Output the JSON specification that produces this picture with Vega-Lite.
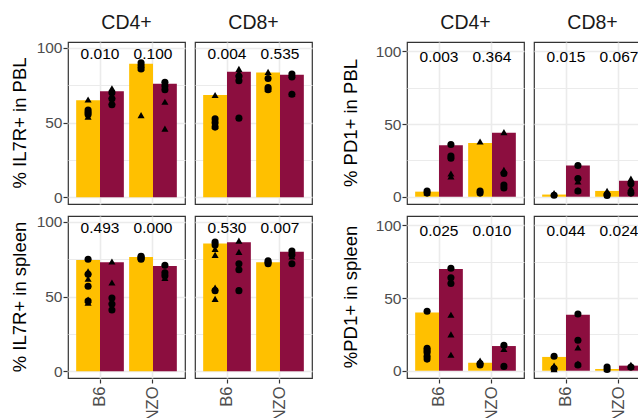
{
"$schema": "https://vega.github.io/schema/vega-lite/v6.json",
"padding": {"left": 10, "top": 12, "right": 0, "bottom": 0},
"background": "white",
"datasets": {"d": [
{"m":"IL7R","t":"PBL","c":"CD4+","s":"B6","g":"A","k":"bar","v":65},
{"m":"IL7R","t":"PBL","c":"CD4+","s":"B6","g":"B","k":"bar","v":71},
{"m":"IL7R","t":"PBL","c":"CD4+","s":"NZO","g":"A","k":"bar","v":89.5},
{"m":"IL7R","t":"PBL","c":"CD4+","s":"NZO","g":"B","k":"bar","v":76},
{"m":"IL7R","t":"PBL","c":"CD4+","s":"B6","k":"p","p":"0.010"},
{"m":"IL7R","t":"PBL","c":"CD4+","s":"NZO","k":"p","p":"0.100"},
{"m":"IL7R","t":"PBL","c":"CD4+","s":"B6","g":"A","k":"pt","sh":"tri","v":65.5},
{"m":"IL7R","t":"PBL","c":"CD4+","s":"B6","g":"A","k":"pt","sh":"circ","v":58.5},
{"m":"IL7R","t":"PBL","c":"CD4+","s":"B6","g":"A","k":"pt","sh":"circ","v":57},
{"m":"IL7R","t":"PBL","c":"CD4+","s":"B6","g":"A","k":"pt","sh":"circ","v":55.5},
{"m":"IL7R","t":"PBL","c":"CD4+","s":"B6","g":"A","k":"pt","sh":"tri","v":54},
{"m":"IL7R","t":"PBL","c":"CD4+","s":"B6","g":"B","k":"pt","sh":"tri","v":73},
{"m":"IL7R","t":"PBL","c":"CD4+","s":"B6","g":"B","k":"pt","sh":"circ","v":70},
{"m":"IL7R","t":"PBL","c":"CD4+","s":"B6","g":"B","k":"pt","sh":"tri","v":68},
{"m":"IL7R","t":"PBL","c":"CD4+","s":"B6","g":"B","k":"pt","sh":"circ","v":66},
{"m":"IL7R","t":"PBL","c":"CD4+","s":"B6","g":"B","k":"pt","sh":"tri","v":64},
{"m":"IL7R","t":"PBL","c":"CD4+","s":"B6","g":"B","k":"pt","sh":"circ","v":62},
{"m":"IL7R","t":"PBL","c":"CD4+","s":"NZO","g":"A","k":"pt","sh":"circ","v":90},
{"m":"IL7R","t":"PBL","c":"CD4+","s":"NZO","g":"A","k":"pt","sh":"tri","v":89},
{"m":"IL7R","t":"PBL","c":"CD4+","s":"NZO","g":"A","k":"pt","sh":"circ","v":88},
{"m":"IL7R","t":"PBL","c":"CD4+","s":"NZO","g":"A","k":"pt","sh":"tri","v":87},
{"m":"IL7R","t":"PBL","c":"CD4+","s":"NZO","g":"A","k":"pt","sh":"circ","v":86},
{"m":"IL7R","t":"PBL","c":"CD4+","s":"NZO","g":"A","k":"pt","sh":"tri","v":55},
{"m":"IL7R","t":"PBL","c":"CD4+","s":"NZO","g":"B","k":"pt","sh":"circ","v":77},
{"m":"IL7R","t":"PBL","c":"CD4+","s":"NZO","g":"B","k":"pt","sh":"circ","v":74.5},
{"m":"IL7R","t":"PBL","c":"CD4+","s":"NZO","g":"B","k":"pt","sh":"circ","v":72},
{"m":"IL7R","t":"PBL","c":"CD4+","s":"NZO","g":"B","k":"pt","sh":"tri","v":64},
{"m":"IL7R","t":"PBL","c":"CD4+","s":"NZO","g":"B","k":"pt","sh":"tri","v":46},

{"m":"IL7R","t":"PBL","c":"CD8+","s":"B6","g":"A","k":"bar","v":68.5},
{"m":"IL7R","t":"PBL","c":"CD8+","s":"B6","g":"B","k":"bar","v":84},
{"m":"IL7R","t":"PBL","c":"CD8+","s":"NZO","g":"A","k":"bar","v":83.5},
{"m":"IL7R","t":"PBL","c":"CD8+","s":"NZO","g":"B","k":"bar","v":82},
{"m":"IL7R","t":"PBL","c":"CD8+","s":"B6","k":"p","p":"0.004"},
{"m":"IL7R","t":"PBL","c":"CD8+","s":"NZO","k":"p","p":"0.535"},
{"m":"IL7R","t":"PBL","c":"CD8+","s":"B6","g":"A","k":"pt","sh":"tri","v":68.5},
{"m":"IL7R","t":"PBL","c":"CD8+","s":"B6","g":"A","k":"pt","sh":"circ","v":52.5},
{"m":"IL7R","t":"PBL","c":"CD8+","s":"B6","g":"A","k":"pt","sh":"circ","v":50},
{"m":"IL7R","t":"PBL","c":"CD8+","s":"B6","g":"A","k":"pt","sh":"tri","v":48},
{"m":"IL7R","t":"PBL","c":"CD8+","s":"B6","g":"A","k":"pt","sh":"circ","v":47},
{"m":"IL7R","t":"PBL","c":"CD8+","s":"B6","g":"B","k":"pt","sh":"tri","v":86},
{"m":"IL7R","t":"PBL","c":"CD8+","s":"B6","g":"B","k":"pt","sh":"tri","v":83.5},
{"m":"IL7R","t":"PBL","c":"CD8+","s":"B6","g":"B","k":"pt","sh":"circ","v":81},
{"m":"IL7R","t":"PBL","c":"CD8+","s":"B6","g":"B","k":"pt","sh":"circ","v":78},
{"m":"IL7R","t":"PBL","c":"CD8+","s":"B6","g":"B","k":"pt","sh":"circ","v":53},
{"m":"IL7R","t":"PBL","c":"CD8+","s":"NZO","g":"A","k":"pt","sh":"tri","v":84},
{"m":"IL7R","t":"PBL","c":"CD8+","s":"NZO","g":"A","k":"pt","sh":"circ","v":79.5},
{"m":"IL7R","t":"PBL","c":"CD8+","s":"NZO","g":"A","k":"pt","sh":"circ","v":73.5},
{"m":"IL7R","t":"PBL","c":"CD8+","s":"NZO","g":"A","k":"pt","sh":"tri","v":72.5},
{"m":"IL7R","t":"PBL","c":"CD8+","s":"NZO","g":"A","k":"pt","sh":"circ","v":72},
{"m":"IL7R","t":"PBL","c":"CD8+","s":"NZO","g":"B","k":"pt","sh":"circ","v":82.5},
{"m":"IL7R","t":"PBL","c":"CD8+","s":"NZO","g":"B","k":"pt","sh":"tri","v":82},
{"m":"IL7R","t":"PBL","c":"CD8+","s":"NZO","g":"B","k":"pt","sh":"circ","v":80.5},
{"m":"IL7R","t":"PBL","c":"CD8+","s":"NZO","g":"B","k":"pt","sh":"tri","v":69.5},
{"m":"IL7R","t":"PBL","c":"CD8+","s":"NZO","g":"B","k":"pt","sh":"circ","v":69},

{"m":"IL7R","t":"spleen","c":"CD4+","s":"B6","g":"A","k":"bar","v":74.5},
{"m":"IL7R","t":"spleen","c":"CD4+","s":"B6","g":"B","k":"bar","v":73},
{"m":"IL7R","t":"spleen","c":"CD4+","s":"NZO","g":"A","k":"bar","v":76.5},
{"m":"IL7R","t":"spleen","c":"CD4+","s":"NZO","g":"B","k":"bar","v":70.5},
{"m":"IL7R","t":"spleen","c":"CD4+","s":"B6","k":"p","p":"0.493"},
{"m":"IL7R","t":"spleen","c":"CD4+","s":"NZO","k":"p","p":"0.000"},
{"m":"IL7R","t":"spleen","c":"CD4+","s":"B6","g":"A","k":"pt","sh":"circ","v":75},
{"m":"IL7R","t":"spleen","c":"CD4+","s":"B6","g":"A","k":"pt","sh":"tri","v":67},
{"m":"IL7R","t":"spleen","c":"CD4+","s":"B6","g":"A","k":"pt","sh":"circ","v":65},
{"m":"IL7R","t":"spleen","c":"CD4+","s":"B6","g":"A","k":"pt","sh":"tri","v":62},
{"m":"IL7R","t":"spleen","c":"CD4+","s":"B6","g":"A","k":"pt","sh":"circ","v":57},
{"m":"IL7R","t":"spleen","c":"CD4+","s":"B6","g":"A","k":"pt","sh":"tri","v":48},
{"m":"IL7R","t":"spleen","c":"CD4+","s":"B6","g":"A","k":"pt","sh":"circ","v":47},
{"m":"IL7R","t":"spleen","c":"CD4+","s":"B6","g":"A","k":"pt","sh":"tri","v":46},
{"m":"IL7R","t":"spleen","c":"CD4+","s":"B6","g":"B","k":"pt","sh":"tri","v":73.5},
{"m":"IL7R","t":"spleen","c":"CD4+","s":"B6","g":"B","k":"pt","sh":"tri","v":59.5},
{"m":"IL7R","t":"spleen","c":"CD4+","s":"B6","g":"B","k":"pt","sh":"circ","v":49},
{"m":"IL7R","t":"spleen","c":"CD4+","s":"B6","g":"B","k":"pt","sh":"tri","v":47},
{"m":"IL7R","t":"spleen","c":"CD4+","s":"B6","g":"B","k":"pt","sh":"circ","v":45},
{"m":"IL7R","t":"spleen","c":"CD4+","s":"B6","g":"B","k":"pt","sh":"circ","v":41},
{"m":"IL7R","t":"spleen","c":"CD4+","s":"NZO","g":"A","k":"pt","sh":"circ","v":77},
{"m":"IL7R","t":"spleen","c":"CD4+","s":"NZO","g":"A","k":"pt","sh":"circ","v":76.5},
{"m":"IL7R","t":"spleen","c":"CD4+","s":"NZO","g":"A","k":"pt","sh":"circ","v":75.5},
{"m":"IL7R","t":"spleen","c":"CD4+","s":"NZO","g":"A","k":"pt","sh":"circ","v":75},
{"m":"IL7R","t":"spleen","c":"CD4+","s":"NZO","g":"B","k":"pt","sh":"circ","v":71},
{"m":"IL7R","t":"spleen","c":"CD4+","s":"NZO","g":"B","k":"pt","sh":"circ","v":66},
{"m":"IL7R","t":"spleen","c":"CD4+","s":"NZO","g":"B","k":"pt","sh":"circ","v":64},
{"m":"IL7R","t":"spleen","c":"CD4+","s":"NZO","g":"B","k":"pt","sh":"tri","v":62.5},

{"m":"IL7R","t":"spleen","c":"CD8+","s":"B6","g":"A","k":"bar","v":85.5},
{"m":"IL7R","t":"spleen","c":"CD8+","s":"B6","g":"B","k":"bar","v":86.5},
{"m":"IL7R","t":"spleen","c":"CD8+","s":"NZO","g":"A","k":"bar","v":73},
{"m":"IL7R","t":"spleen","c":"CD8+","s":"NZO","g":"B","k":"bar","v":80},
{"m":"IL7R","t":"spleen","c":"CD8+","s":"B6","k":"p","p":"0.530"},
{"m":"IL7R","t":"spleen","c":"CD8+","s":"NZO","k":"p","p":"0.007"},
{"m":"IL7R","t":"spleen","c":"CD8+","s":"B6","g":"A","k":"pt","sh":"circ","v":86.5},
{"m":"IL7R","t":"spleen","c":"CD8+","s":"B6","g":"A","k":"pt","sh":"circ","v":84.5},
{"m":"IL7R","t":"spleen","c":"CD8+","s":"B6","g":"A","k":"pt","sh":"tri","v":82},
{"m":"IL7R","t":"spleen","c":"CD8+","s":"B6","g":"A","k":"pt","sh":"tri","v":78},
{"m":"IL7R","t":"spleen","c":"CD8+","s":"B6","g":"A","k":"pt","sh":"tri","v":56},
{"m":"IL7R","t":"spleen","c":"CD8+","s":"B6","g":"A","k":"pt","sh":"circ","v":54},
{"m":"IL7R","t":"spleen","c":"CD8+","s":"B6","g":"A","k":"pt","sh":"tri","v":48.5},
{"m":"IL7R","t":"spleen","c":"CD8+","s":"B6","g":"B","k":"pt","sh":"tri","v":87.5},
{"m":"IL7R","t":"spleen","c":"CD8+","s":"B6","g":"B","k":"pt","sh":"tri","v":80},
{"m":"IL7R","t":"spleen","c":"CD8+","s":"B6","g":"B","k":"pt","sh":"circ","v":72},
{"m":"IL7R","t":"spleen","c":"CD8+","s":"B6","g":"B","k":"pt","sh":"circ","v":68},
{"m":"IL7R","t":"spleen","c":"CD8+","s":"B6","g":"B","k":"pt","sh":"circ","v":54},
{"m":"IL7R","t":"spleen","c":"CD8+","s":"NZO","g":"A","k":"pt","sh":"circ","v":74},
{"m":"IL7R","t":"spleen","c":"CD8+","s":"NZO","g":"A","k":"pt","sh":"circ","v":73},
{"m":"IL7R","t":"spleen","c":"CD8+","s":"NZO","g":"A","k":"pt","sh":"circ","v":72},
{"m":"IL7R","t":"spleen","c":"CD8+","s":"NZO","g":"B","k":"pt","sh":"circ","v":80.5},
{"m":"IL7R","t":"spleen","c":"CD8+","s":"NZO","g":"B","k":"pt","sh":"circ","v":78},
{"m":"IL7R","t":"spleen","c":"CD8+","s":"NZO","g":"B","k":"pt","sh":"tri","v":77},
{"m":"IL7R","t":"spleen","c":"CD8+","s":"NZO","g":"B","k":"pt","sh":"circ","v":72},

{"m":"PD1","t":"PBL","c":"CD4+","s":"B6","g":"A","k":"bar","v":3.5},
{"m":"PD1","t":"PBL","c":"CD4+","s":"B6","g":"B","k":"bar","v":35.5},
{"m":"PD1","t":"PBL","c":"CD4+","s":"NZO","g":"A","k":"bar","v":37},
{"m":"PD1","t":"PBL","c":"CD4+","s":"NZO","g":"B","k":"bar","v":44},
{"m":"PD1","t":"PBL","c":"CD4+","s":"B6","k":"p","p":"0.003"},
{"m":"PD1","t":"PBL","c":"CD4+","s":"NZO","k":"p","p":"0.364"},
{"m":"PD1","t":"PBL","c":"CD4+","s":"B6","g":"A","k":"pt","sh":"circ","v":4},
{"m":"PD1","t":"PBL","c":"CD4+","s":"B6","g":"A","k":"pt","sh":"tri","v":3},
{"m":"PD1","t":"PBL","c":"CD4+","s":"B6","g":"A","k":"pt","sh":"circ","v":2.5},
{"m":"PD1","t":"PBL","c":"CD4+","s":"B6","g":"B","k":"pt","sh":"circ","v":36},
{"m":"PD1","t":"PBL","c":"CD4+","s":"B6","g":"B","k":"pt","sh":"circ","v":28},
{"m":"PD1","t":"PBL","c":"CD4+","s":"B6","g":"B","k":"pt","sh":"circ","v":26.5},
{"m":"PD1","t":"PBL","c":"CD4+","s":"B6","g":"B","k":"pt","sh":"tri","v":16},
{"m":"PD1","t":"PBL","c":"CD4+","s":"B6","g":"B","k":"pt","sh":"tri","v":14},
{"m":"PD1","t":"PBL","c":"CD4+","s":"NZO","g":"A","k":"pt","sh":"tri","v":38},
{"m":"PD1","t":"PBL","c":"CD4+","s":"NZO","g":"A","k":"pt","sh":"circ","v":4},
{"m":"PD1","t":"PBL","c":"CD4+","s":"NZO","g":"A","k":"pt","sh":"circ","v":2.5},
{"m":"PD1","t":"PBL","c":"CD4+","s":"NZO","g":"B","k":"pt","sh":"tri","v":44.5},
{"m":"PD1","t":"PBL","c":"CD4+","s":"NZO","g":"B","k":"pt","sh":"tri","v":18.5},
{"m":"PD1","t":"PBL","c":"CD4+","s":"NZO","g":"B","k":"pt","sh":"circ","v":16},
{"m":"PD1","t":"PBL","c":"CD4+","s":"NZO","g":"B","k":"pt","sh":"circ","v":8},
{"m":"PD1","t":"PBL","c":"CD4+","s":"NZO","g":"B","k":"pt","sh":"circ","v":6},

{"m":"PD1","t":"PBL","c":"CD8+","s":"B6","g":"A","k":"bar","v":1.5},
{"m":"PD1","t":"PBL","c":"CD8+","s":"B6","g":"B","k":"bar","v":21.5},
{"m":"PD1","t":"PBL","c":"CD8+","s":"NZO","g":"A","k":"bar","v":4},
{"m":"PD1","t":"PBL","c":"CD8+","s":"NZO","g":"B","k":"bar","v":11},
{"m":"PD1","t":"PBL","c":"CD8+","s":"B6","k":"p","p":"0.015"},
{"m":"PD1","t":"PBL","c":"CD8+","s":"NZO","k":"p","p":"0.067"},
{"m":"PD1","t":"PBL","c":"CD8+","s":"B6","g":"A","k":"pt","sh":"tri","v":2.5},
{"m":"PD1","t":"PBL","c":"CD8+","s":"B6","g":"A","k":"pt","sh":"circ","v":1},
{"m":"PD1","t":"PBL","c":"CD8+","s":"B6","g":"B","k":"pt","sh":"circ","v":21.5},
{"m":"PD1","t":"PBL","c":"CD8+","s":"B6","g":"B","k":"pt","sh":"circ","v":12.5},
{"m":"PD1","t":"PBL","c":"CD8+","s":"B6","g":"B","k":"pt","sh":"tri","v":10.5},
{"m":"PD1","t":"PBL","c":"CD8+","s":"B6","g":"B","k":"pt","sh":"tri","v":4.5},
{"m":"PD1","t":"PBL","c":"CD8+","s":"B6","g":"B","k":"pt","sh":"circ","v":4},
{"m":"PD1","t":"PBL","c":"CD8+","s":"NZO","g":"A","k":"pt","sh":"tri","v":4},
{"m":"PD1","t":"PBL","c":"CD8+","s":"NZO","g":"A","k":"pt","sh":"circ","v":1.5},
{"m":"PD1","t":"PBL","c":"CD8+","s":"NZO","g":"A","k":"pt","sh":"circ","v":0.8},
{"m":"PD1","t":"PBL","c":"CD8+","s":"NZO","g":"B","k":"pt","sh":"tri","v":12.5},
{"m":"PD1","t":"PBL","c":"CD8+","s":"NZO","g":"B","k":"pt","sh":"circ","v":9},
{"m":"PD1","t":"PBL","c":"CD8+","s":"NZO","g":"B","k":"pt","sh":"tri","v":6},
{"m":"PD1","t":"PBL","c":"CD8+","s":"NZO","g":"B","k":"pt","sh":"circ","v":2.5},

{"m":"PD1","t":"spleen","c":"CD4+","s":"B6","g":"A","k":"bar","v":40},
{"m":"PD1","t":"spleen","c":"CD4+","s":"B6","g":"B","k":"bar","v":70},
{"m":"PD1","t":"spleen","c":"CD4+","s":"NZO","g":"A","k":"bar","v":5.5},
{"m":"PD1","t":"spleen","c":"CD4+","s":"NZO","g":"B","k":"bar","v":17},
{"m":"PD1","t":"spleen","c":"CD4+","s":"B6","k":"p","p":"0.025"},
{"m":"PD1","t":"spleen","c":"CD4+","s":"NZO","k":"p","p":"0.010"},
{"m":"PD1","t":"spleen","c":"CD4+","s":"B6","g":"A","k":"pt","sh":"circ","v":41},
{"m":"PD1","t":"spleen","c":"CD4+","s":"B6","g":"A","k":"pt","sh":"circ","v":15.5},
{"m":"PD1","t":"spleen","c":"CD4+","s":"B6","g":"A","k":"pt","sh":"circ","v":14},
{"m":"PD1","t":"spleen","c":"CD4+","s":"B6","g":"A","k":"pt","sh":"circ","v":12.5},
{"m":"PD1","t":"spleen","c":"CD4+","s":"B6","g":"A","k":"pt","sh":"circ","v":10},
{"m":"PD1","t":"spleen","c":"CD4+","s":"B6","g":"A","k":"pt","sh":"circ","v":8},
{"m":"PD1","t":"spleen","c":"CD4+","s":"B6","g":"B","k":"pt","sh":"circ","v":70.5},
{"m":"PD1","t":"spleen","c":"CD4+","s":"B6","g":"B","k":"pt","sh":"circ","v":64},
{"m":"PD1","t":"spleen","c":"CD4+","s":"B6","g":"B","k":"pt","sh":"circ","v":60},
{"m":"PD1","t":"spleen","c":"CD4+","s":"B6","g":"B","k":"pt","sh":"tri","v":38.5},
{"m":"PD1","t":"spleen","c":"CD4+","s":"B6","g":"B","k":"pt","sh":"tri","v":25},
{"m":"PD1","t":"spleen","c":"CD4+","s":"B6","g":"B","k":"pt","sh":"tri","v":11},
{"m":"PD1","t":"spleen","c":"CD4+","s":"NZO","g":"A","k":"pt","sh":"tri","v":7},
{"m":"PD1","t":"spleen","c":"CD4+","s":"NZO","g":"A","k":"pt","sh":"circ","v":5},
{"m":"PD1","t":"spleen","c":"CD4+","s":"NZO","g":"A","k":"pt","sh":"circ","v":4},
{"m":"PD1","t":"spleen","c":"CD4+","s":"NZO","g":"B","k":"pt","sh":"circ","v":17.5},
{"m":"PD1","t":"spleen","c":"CD4+","s":"NZO","g":"B","k":"pt","sh":"tri","v":15},
{"m":"PD1","t":"spleen","c":"CD4+","s":"NZO","g":"B","k":"pt","sh":"circ","v":3},

{"m":"PD1","t":"spleen","c":"CD8+","s":"B6","g":"A","k":"bar","v":9.5},
{"m":"PD1","t":"spleen","c":"CD8+","s":"B6","g":"B","k":"bar","v":38.5},
{"m":"PD1","t":"spleen","c":"CD8+","s":"NZO","g":"A","k":"bar","v":1.2},
{"m":"PD1","t":"spleen","c":"CD8+","s":"NZO","g":"B","k":"bar","v":3.5},
{"m":"PD1","t":"spleen","c":"CD8+","s":"B6","k":"p","p":"0.044"},
{"m":"PD1","t":"spleen","c":"CD8+","s":"NZO","k":"p","p":"0.024"},
{"m":"PD1","t":"spleen","c":"CD8+","s":"B6","g":"A","k":"pt","sh":"circ","v":10},
{"m":"PD1","t":"spleen","c":"CD8+","s":"B6","g":"A","k":"pt","sh":"tri","v":3.5},
{"m":"PD1","t":"spleen","c":"CD8+","s":"B6","g":"A","k":"pt","sh":"circ","v":1.5},
{"m":"PD1","t":"spleen","c":"CD8+","s":"B6","g":"A","k":"pt","sh":"tri","v":1},
{"m":"PD1","t":"spleen","c":"CD8+","s":"B6","g":"B","k":"pt","sh":"circ","v":39},
{"m":"PD1","t":"spleen","c":"CD8+","s":"B6","g":"B","k":"pt","sh":"circ","v":21},
{"m":"PD1","t":"spleen","c":"CD8+","s":"B6","g":"B","k":"pt","sh":"tri","v":16},
{"m":"PD1","t":"spleen","c":"CD8+","s":"B6","g":"B","k":"pt","sh":"tri","v":5},
{"m":"PD1","t":"spleen","c":"CD8+","s":"B6","g":"B","k":"pt","sh":"circ","v":4},
{"m":"PD1","t":"spleen","c":"CD8+","s":"NZO","g":"A","k":"pt","sh":"circ","v":2.5},
{"m":"PD1","t":"spleen","c":"CD8+","s":"NZO","g":"A","k":"pt","sh":"tri","v":1.5},
{"m":"PD1","t":"spleen","c":"CD8+","s":"NZO","g":"A","k":"pt","sh":"circ","v":0.8},
{"m":"PD1","t":"spleen","c":"CD8+","s":"NZO","g":"B","k":"pt","sh":"tri","v":4},
{"m":"PD1","t":"spleen","c":"CD8+","s":"NZO","g":"B","k":"pt","sh":"tri","v":3},
{"m":"PD1","t":"spleen","c":"CD8+","s":"NZO","g":"B","k":"pt","sh":"circ","v":2.5}
]},
"data": {"name": "d"},
"spacing": 28,
"hconcat": [
{
"transform": [{"filter": "datum.m == 'IL7R'"}],
"facet": {
  "row": {"field": "t", "type": "nominal", "sort": ["PBL", "spleen"], "header": {"title": null, "labelExpr": "datum.value == 'PBL' ? '% IL7R+ in PBL' : '% IL7R+ in spleen'", "labelAngle": -90, "labelOrient": "left", "labelFontSize": 18.5, "labelPadding": -2, "labelColor": "#000000"}},
  "column": {"field": "c", "type": "nominal", "header": {"title": null, "labelFontSize": 19.5, "labelPadding": 8, "labelColor": "#1A1A1A"}}
},
"spacing": {"row": 10, "column": 8},
"spec": {
  "width": 117, "height": 162,
  "encoding": {
    "x": {"field": "s", "type": "nominal", "scale": {"paddingInner": 0.1, "paddingOuter": 0.154},
      "axis": {"title": null, "labelAngle": -90, "grid": true, "bandPosition": 0.5, "gridWidth": 1.6, "tickSize": 4, "labelPadding": 3, "labelFontSize": 16.5}}
  },
  "layer": [
    {"transform": [{"filter": "datum.k == 'bar'"}], "mark": {"type": "bar"},
     "encoding": {
       "xOffset": {"field": "g", "type": "nominal", "scale": {"paddingInner": 0, "paddingOuter": 0}},
       "y": {"field": "v", "type": "quantitative", "scale": {"domain": [-4.5, 104], "nice": false, "zero": false},
         "axis": {"title": null, "values": [0, 25, 50, 75, 100], "labelExpr": "datum.value % 50 == 0 ? datum.label : ''",
           "tickOpacity": {"condition": {"test": "datum.value % 50 == 0", "value": 1}, "value": 0},
           "gridWidth": {"condition": {"test": "datum.value % 50 == 0", "value": 1.6}, "value": 1},
           "tickSize": 4, "labelPadding": 1, "labelFontSize": 15.5}},
       "color": {"field": "g", "type": "nominal", "scale": {"domain": ["A", "B"], "range": ["#FFC000", "#8C0E3F"]}, "legend": null}
     }},
    {"transform": [{"filter": "datum.k == 'pt'"}], "mark": {"type": "point", "filled": true, "color": "#000000", "opacity": 1, "size": 50},
     "encoding": {
       "xOffset": {"field": "g", "type": "nominal"},
       "y": {"field": "v", "type": "quantitative"},
       "shape": {"field": "sh", "type": "nominal", "scale": {"domain": ["circ", "tri"], "range": ["circle", "triangle-up"]}, "legend": null}
     }},
    {"transform": [{"filter": "datum.k == 'p'"}], "mark": {"type": "text", "fontSize": 15.5, "color": "#000000", "baseline": "middle"},
     "encoding": {
       "y": {"datum": 96, "type": "quantitative"},
       "text": {"field": "p", "type": "nominal"}
     }}
  ]
}
},
{
"transform": [{"filter": "datum.m == 'PD1'"}],
"facet": {
  "row": {"field": "t", "type": "nominal", "sort": ["PBL", "spleen"], "header": {"title": null, "labelExpr": "datum.value == 'PBL' ? '% PD1+ in PBL' : '%PD1+ in spleen'", "labelAngle": -90, "labelOrient": "left", "labelFontSize": 18.5, "labelPadding": 6, "labelColor": "#000000"}},
  "column": {"field": "c", "type": "nominal", "header": {"title": null, "labelFontSize": 19.5, "labelPadding": 8, "labelColor": "#1A1A1A"}}
},
"spacing": {"row": 10, "column": 8},
"spec": {
  "width": 117, "height": 162,
  "encoding": {
    "x": {"field": "s", "type": "nominal", "scale": {"paddingInner": 0.1, "paddingOuter": 0.154},
      "axis": {"title": null, "labelAngle": -90, "grid": true, "bandPosition": 0.5, "gridWidth": 1.6, "tickSize": 4, "labelPadding": 3, "labelFontSize": 16.5}}
  },
  "layer": [
    {"transform": [{"filter": "datum.k == 'bar'"}], "mark": {"type": "bar"},
     "encoding": {
       "xOffset": {"field": "g", "type": "nominal", "scale": {"paddingInner": 0, "paddingOuter": 0}},
       "y": {"field": "v", "type": "quantitative", "scale": {"domain": [-5, 106.5], "nice": false, "zero": false},
         "axis": {"title": null, "values": [0, 25, 50, 75, 100], "labelExpr": "datum.value % 50 == 0 ? datum.label : ''",
           "tickOpacity": {"condition": {"test": "datum.value % 50 == 0", "value": 1}, "value": 0},
           "gridWidth": {"condition": {"test": "datum.value % 50 == 0", "value": 1.6}, "value": 1},
           "tickSize": 4, "labelPadding": 1, "labelFontSize": 15.5}},
       "color": {"field": "g", "type": "nominal", "scale": {"domain": ["A", "B"], "range": ["#FFC000", "#8C0E3F"]}, "legend": null}
     }},
    {"transform": [{"filter": "datum.k == 'pt'"}], "mark": {"type": "point", "filled": true, "color": "#000000", "opacity": 1, "size": 50},
     "encoding": {
       "xOffset": {"field": "g", "type": "nominal"},
       "y": {"field": "v", "type": "quantitative"},
       "shape": {"field": "sh", "type": "nominal", "scale": {"domain": ["circ", "tri"], "range": ["circle", "triangle-up"]}, "legend": null}
     }},
    {"transform": [{"filter": "datum.k == 'p'"}], "mark": {"type": "text", "fontSize": 15.5, "color": "#000000", "baseline": "middle"},
     "encoding": {
       "y": {"datum": 96, "type": "quantitative"},
       "text": {"field": "p", "type": "nominal"}
     }}
  ]
}
}
],
"resolve": {"scale": {"y": "independent"}},
"config": {
  "font": "Liberation Sans",
  "view": {"stroke": "#333333", "strokeWidth": 1.2},
  "header": {"labelFont": "Liberation Sans"},
  "axis": {"labelFont": "Liberation Sans", "labelColor": "#4D4D4D", "tickColor": "#333333", "tickWidth": 1.2, "domain": false, "gridColor": "#EBEBEB"}
}
}
